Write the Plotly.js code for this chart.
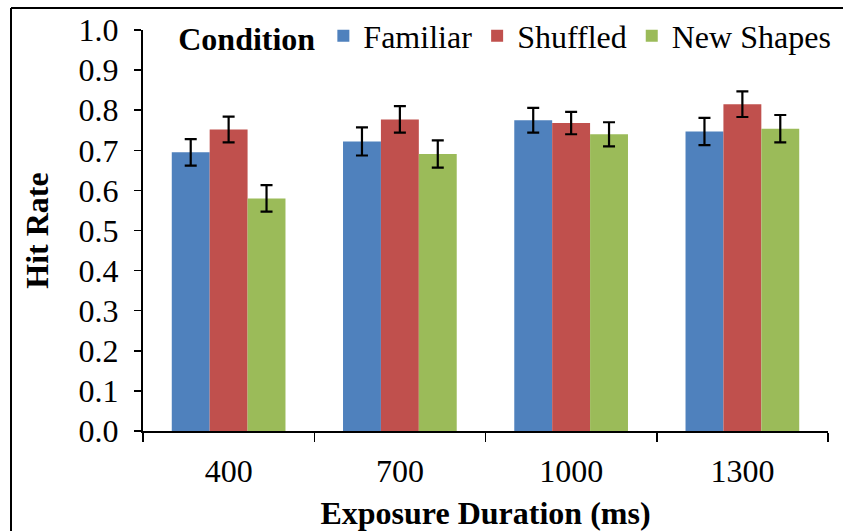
<!DOCTYPE html>
<html>
<head>
<meta charset="utf-8">
<script src="https://cdn.plot.ly/plotly-3.0.1.min.js"></script>
<style>
  html, body { margin: 0; padding: 0; background: #fff; }
  #chart { width: 843px; height: 531px; }
</style>
</head>
<body>
<div id="chart"></div>
<script>
// Data
const categories = ["400", "700", "1000", "1300"];
const seriesNames = ["Familiar", "Shuffled", "New Shapes"];
const familiar = [0.695, 0.722, 0.775, 0.747];
const shuffled = [0.752, 0.777, 0.768, 0.815];
const newShapes = [0.580, 0.691, 0.740, 0.754];
const familiarErr = [0.033, 0.035, 0.031, 0.034];
const shuffledErr = [0.032, 0.033, 0.028, 0.032];
const newShapesErr = [0.033, 0.034, 0.030, 0.034];
const colors = ["#4F81BD", "#C0504D", "#9BBB59"];

const values = [familiar, shuffled, newShapes];
const errors = [familiarErr, shuffledErr, newShapesErr];

const FONT = "Liberation Serif";

const traces = seriesNames.map((name, i) => ({
  type: "bar",
  name: name,
  x: categories,
  y: values[i],
  marker: { color: colors[i], line: { width: 0 } },
  error_y: { type: "data", array: errors[i], visible: true, color: "#000", thickness: 2.2, width: 6 }
}));

const layout = {
  width: 843,
  height: 531,
  margin: { l: 143, r: 15, t: 30, b: 100, autoexpand: false },
  paper_bgcolor: "#fff",
  plot_bgcolor: "#fff",
  font: { family: FONT, size: 32, color: "#000" },
  barmode: "group",
  bargap: 0.336,
  bargroupgap: 0,
  showlegend: true,
  legend: {
    orientation: "h",
    x: 0.0485, xanchor: "left",
    y: 0.985, yanchor: "middle",
    bgcolor: "rgba(0,0,0,0)",
    font: { family: FONT, size: 32, color: "#000" },
    title: { text: "<b>Condition</b>", side: "left", font: { family: FONT, size: 32 } },
    itemwidth: 30,
    tracegroupgap: 0
  },
  xaxis: {
    type: "category",
    showline: true, linecolor: "#000", linewidth: 2,
    ticks: "outside", tickson: "boundaries", ticklen: 9, tickwidth: 1.5, tickcolor: "#000",
    showgrid: false, zeroline: false,
    tickfont: { family: FONT, size: 32 },
    ticklabelstandoff: 11,
    title: { text: "<b>Exposure Duration (ms)</b>", font: { family: FONT, size: 32 }, standoff: 21 }
  },
  yaxis: {
    range: [0, 1.0],
    dtick: 0.1, tick0: 0,
    tickformat: ".1f",
    showline: true, linecolor: "#000", linewidth: 2,
    ticks: "outside", ticklen: 7, tickwidth: 1.5, tickcolor: "#000",
    showgrid: false, zeroline: false,
    tickfont: { family: FONT, size: 32 },
    ticklabelstandoff: 9,
    title: { text: "<b>Hit Rate</b>", font: { family: FONT, size: 32 }, standoff: 20 }
  },
  shapes: [
    { type: "line", xref: "paper", yref: "paper", x0: -0.1927, x1: -0.1927, y0: 1.0549, y1: -0.4,
      line: { color: "#000", width: 2 } },
    { type: "line", xref: "paper", yref: "paper", x0: -0.1927, x1: 1.1, y0: 1.0549, y1: 1.0549,
      line: { color: "#000", width: 2 } }
  ]
};

Plotly.newPlot("chart", traces, layout, { displayModeBar: false, staticPlot: true });
</script>
</body>
</html>
